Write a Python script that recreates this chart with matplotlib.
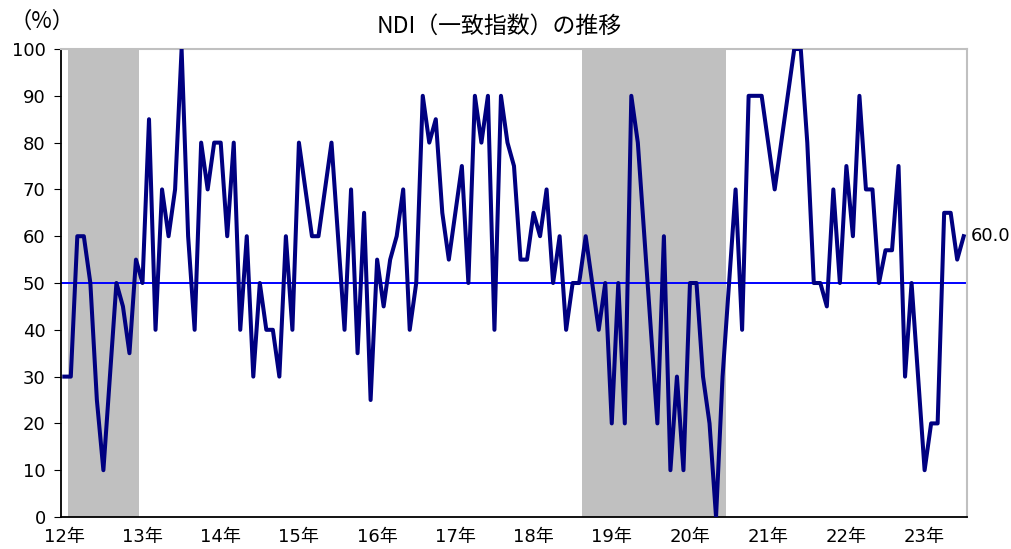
import numpy as np
import matplotlib
matplotlib.use('Agg')
import matplotlib.pyplot as plt

plt.rcParams['font.family'] = ['DejaVu Sans', 'Noto Sans CJK JP']

# monthly NDI (coincident index), Jan 2012 - Jul 2023
ndi = [30, 30, 60, 60, 50, 25, 10, 30, 50, 45, 35, 55,
       50, 85, 40, 70, 60, 70, 100, 60, 40, 80, 70, 80,
       80, 60, 80, 40, 60, 30, 50, 40, 40, 30, 60, 40,
       80, 70, 60, 60, 70, 80, 60, 40, 70, 35, 65, 25,
       55, 45, 55, 60, 70, 40, 50, 90, 80, 85, 65, 55,
       65, 75, 50, 90, 80, 90, 40, 90, 80, 75, 55, 55,
       65, 60, 70, 50, 60, 40, 50, 50, 60, 50, 40, 50,
       20, 50, 20, 90, 80, 60, 40, 20, 60, 10, 30, 10,
       50, 50, 30, 20, 0, 30, 50, 70, 40, 90, 90, 90,
       80, 70, 80, 90, 100, 100, 80, 50, 50, 45, 70, 50,
       75, 60, 90, 70, 70, 50, 57, 57, 75, 30, 50, 30,
       10, 20, 20, 65, 65, 55, 60]
year_labels = ['12年', '13年', '14年', '15年', '16年', '17年',
               '18年', '19年', '20年', '21年', '22年', '23年']
# recession periods as month index (start, end)
recessions = [(1, 11), (80, 101)]

x = np.arange(len(ndi))

fig = plt.figure(figsize=(10.12, 5.49), dpi=100)
ax = fig.add_axes([0.0603, 0.0583, 0.8952, 0.8524])

for s, e in recessions:
    ax.axvspan(s - 0.5, e + 0.5, color='#c0c0c0', lw=0, zorder=0)

ax.axhline(50, color='#0000ff', lw=1.4, zorder=2)
ax.plot(x, ndi, color='#000080', lw=2.9, zorder=3, solid_joinstyle='round')

ax.set_xlim(-0.5, len(ndi) - 0.5)
ax.set_ylim(0, 100)
ax.set_yticks(np.arange(0, 101, 10))
ax.set_xticks(np.arange(0, len(ndi), 12))
ax.set_xticklabels(year_labels)
ax.tick_params(axis='y', direction='out', length=5, labelsize=13, pad=6)
ax.tick_params(axis='x', length=0, labelsize=13, pad=8)

for side in ['top', 'right']:
    ax.spines[side].set_color('#c0c0c0')
    ax.spines[side].set_linewidth(1.5)
for side in ['left', 'bottom']:
    ax.spines[side].set_color('black')
    ax.spines[side].set_linewidth(1.3)

fig.text(0.493, 0.953, 'NDI（一致指数）の推移', fontsize=16.5, ha='center',
         va='center', family=['Noto Sans CJK JP', 'DejaVu Sans'])
fig.text(0.009, 0.962, '（%）', fontsize=16, ha='left', va='center',
         family=['Noto Sans CJK JP', 'DejaVu Sans'])
ax.annotate(f'{ndi[-1]:.1f}', xy=(x[-1], ndi[-1]), xytext=(5, 0),
            textcoords='offset points', fontsize=13, va='center', ha='left',
            annotation_clip=False)

fig.savefig('out.png', dpi=100)
